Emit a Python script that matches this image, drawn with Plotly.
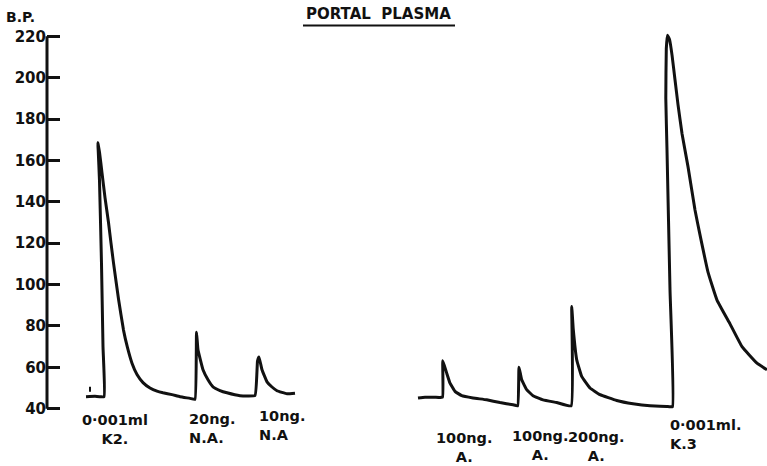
import plotly.graph_objects as go

# Blood-pressure trace, time in chart units (arbitrary), pressure in mmHg
# Segment 1 (K2, 20ng N.A., 10ng N.A)
t1 = [86, 95, 104, 103, 101.5, 99.5, 98.2, 97.8, 99.5, 102, 105, 108.5, 111, 113.5, 118.5, 123.5, 127.5, 132,
      137, 143, 150, 157, 163, 172, 180, 190, 195,
      196.5, 198, 203, 208, 213, 220, 227, 240, 255,
      257.5, 259, 262, 267, 272, 277, 287, 295]
bp1 = [45.8, 46.0, 45.8, 70, 110, 150, 165, 168.5, 164, 154, 142, 130, 120, 110.5, 93, 78, 69.5, 62,
       56.5, 52.6, 50.0, 48.5, 47.7, 46.8, 45.8, 45.0, 44.5,
       77.0, 68.5, 58.8, 54.0, 50.6, 48.8, 47.7, 46.3, 46.4,
       63.0, 65.0, 58.8, 53.0, 50.5, 48.7, 47.2, 47.5]

# Segment 2 (100ng A., 100ng A., 200ng A., K3)
t2 = [418, 425, 435, 442.5, 442.8, 446.7, 450, 455, 461.7, 473, 486.7, 500, 513, 517.7,
      519, 521.7, 526.7, 533, 543, 556.7, 571.2,
      571.7, 573.3, 576.7, 581.7, 590, 600, 616.7, 633, 650, 666.7, 672.5,
      670, 667, 665.8, 666.3, 667.5, 669.5, 672, 675, 678, 682, 688, 695, 700, 708,
      717, 730, 742, 757, 767]
bp2 = [45.2, 45.6, 45.5, 45.6, 63.2, 57.2, 52.4, 48.4, 46.3, 45.2, 44.3, 43.0, 41.9, 41.4,
       60.1, 54.0, 49.2, 46.3, 44.3, 43.0, 41.4,
       89.4, 78.2, 63.7, 55.6, 50.0, 46.8, 44.0, 42.4, 41.4, 41.1, 41.0,
       97.5, 165, 190, 214, 220.5, 218.5, 211, 199, 187, 173, 157, 136, 124, 106,
       92.5, 81, 70.0, 62.0, 58.8]

# small pen mark before first injection
mark_t = [90, 90]
mark_bp = [48.2, 50.6]

yticks = [40, 60, 80, 100, 120, 140, 160, 180, 200, 220]

# injection labels (two lines each)
label_top = ["0·001ml", "20ng.", "10ng.", "100ng.", "100ng.", "200ng.", "0·001ml."]
label_bottom = ["K2.", "N.A.", "N.A", "A.", "A.", "A.", "K.3"]
# placement of the label blocks (chart x, pixel y of block centre, alignment)
label_x = [115, 187, 257, 464, 540, 596, 668]
label_py = [429, 428, 425.5, 447.5, 445.75, 446, 434.5]
label_align = ["center", "left", "left", "center", "center", "center", "left"]

W, H = 767, 466
mt, mb, ml, mr = 28, 49, 47, 0
plot_h = H - mt - mb

ink = "#111111"
fig = go.Figure()
for tx, ty, lw in [(t1, bp1, 3), (t2, bp2, 3), (mark_t, mark_bp, 2)]:
    fig.add_trace(go.Scatter(x=tx, y=ty, mode="lines",
                             line=dict(color=ink, width=lw, shape="spline", smoothing=0.3),
                             hoverinfo="skip", showlegend=False))

# y axis spine spanning tick range
fig.add_shape(type="line", xref="paper", yref="y", x0=0, x1=0,
              y0=min(yticks), y1=max(yticks), line=dict(color=ink, width=3))

font = "DejaVu Sans"
for top, bot, lx, py, al in zip(label_top, label_bottom, label_x, label_py, label_align):
    fig.add_annotation(x=lx, xref="x", y=(H - mb - py) / plot_h, yref="paper",
                       text=f"{top}<br>{bot}", showarrow=False,
                       xanchor="center" if al == "center" else "left", yanchor="middle",
                       align=al,
                       font=dict(family=font, size=14.5, color=ink, weight="bold"))

# title with underline
fig.add_annotation(x=378, xref="x", y=(H - mb - 14) / plot_h, yref="paper",
                   text="PORTAL  PLASMA", showarrow=False, xanchor="center", yanchor="middle",
                   font=dict(family=font, size=15, color=ink, weight="bold"))
fig.add_shape(type="line", xref="x", yref="paper", x0=303, x1=455,
              y0=(H - mb - 25.5) / plot_h, y1=(H - mb - 25.5) / plot_h,
              line=dict(color=ink, width=2))
fig.add_annotation(x=(20 - ml) / (W - ml - mr), xref="paper", y=(H - mb - 17) / plot_h, yref="paper",
                   text="B.P.", showarrow=False, xanchor="center", yanchor="middle",
                   font=dict(family=font, size=14, color=ink, weight="bold"))

fig.update_layout(
    width=W, height=H, margin=dict(l=ml, r=mr, t=mt, b=mb),
    paper_bgcolor="white", plot_bgcolor="white",
    xaxis=dict(range=[ml, W], visible=False),
    yaxis=dict(range=[36, 224], tickvals=yticks, ticktext=[str(v) for v in yticks],
               ticks="inside", ticklen=13, tickwidth=3, tickcolor=ink,
               showline=False, showgrid=False, zeroline=False,
               tickfont=dict(family=font, size=15, color=ink, weight="bold")),
)
fig.write_html("out.html")
